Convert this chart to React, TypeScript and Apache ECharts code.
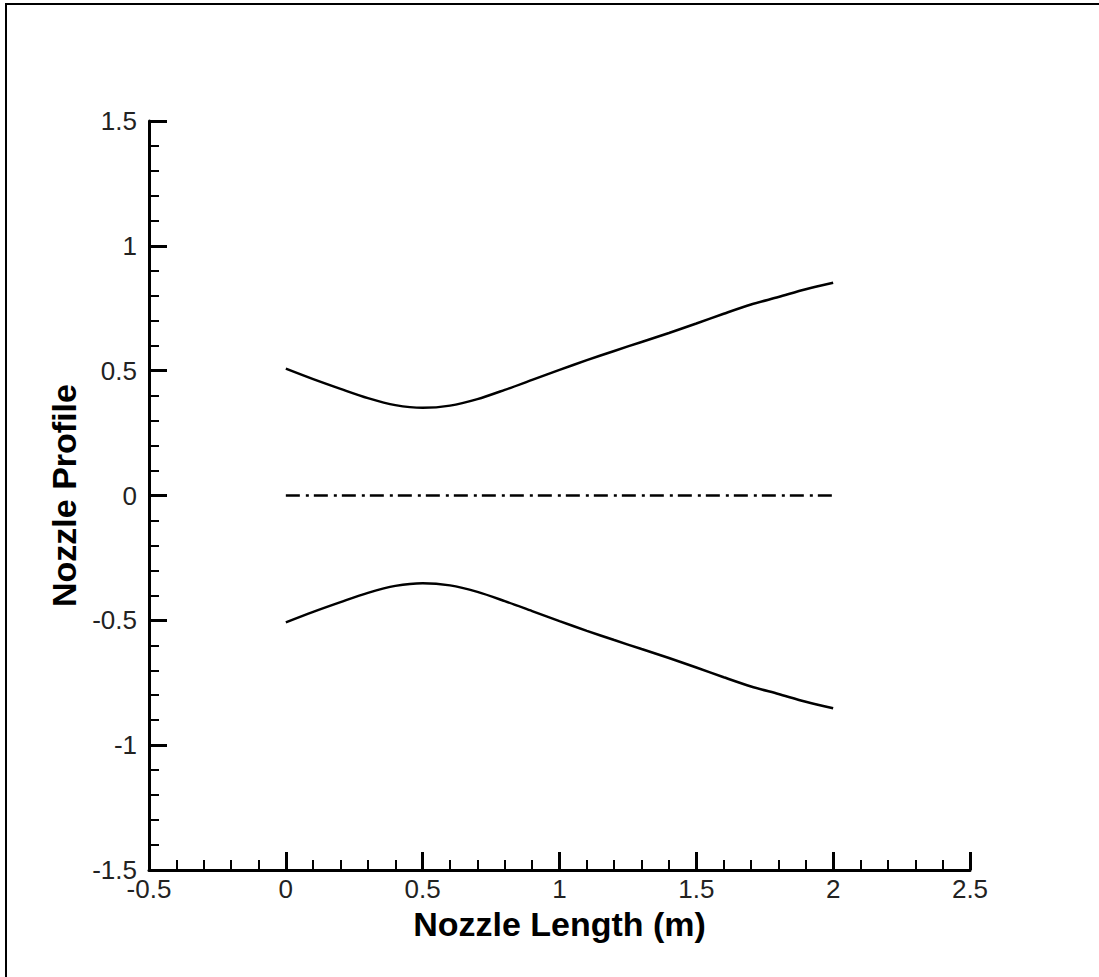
import React, { useEffect, useRef } from "react";
import * as echarts from "echarts";

const xValues = [0, 0.1, 0.2, 0.3, 0.4, 0.5, 0.6, 0.7, 0.8, 0.9, 1.0, 1.1, 1.2, 1.3, 1.4, 1.5, 1.6, 1.7, 1.8, 1.9, 2.0];
const upperWall = [0.508, 0.466, 0.427, 0.39, 0.362, 0.351, 0.36, 0.386, 0.423, 0.463, 0.503, 0.542, 0.579, 0.615, 0.651, 0.689, 0.728, 0.765, 0.795, 0.826, 0.852];
const lowerWall = [-0.508, -0.466, -0.427, -0.39, -0.362, -0.351, -0.36, -0.386, -0.423, -0.463, -0.503, -0.542, -0.579, -0.615, -0.651, -0.689, -0.728, -0.765, -0.795, -0.826, -0.852];
const centerX = [0, 2];
const centerY = [0, 0];

const FONT = "'Liberation Sans', Arial, sans-serif";

export default function App() {
  const ref = useRef<HTMLDivElement>(null);
  useEffect(() => {
    if (!ref.current) return;
    const chart = echarts.init(ref.current, undefined, { renderer: "svg" });
    const pairs = (xs: number[], ys: number[]) => xs.map((x, i) => [x, ys[i]]);
    chart.setOption({
      animation: false,
      backgroundColor: "#fff",
      textStyle: { fontFamily: FONT },
      grid: { left: 149, right: 129, top: 121, bottom: 107, containLabel: false },
      graphic: [
        {
          type: "rect",
          shape: { x: 6, y: 4, width: 1100, height: 1000 },
          style: { fill: "none", stroke: "#000", lineWidth: 2 },
          silent: true,
        },
      ],
      xAxis: {
        type: "value",
        min: -0.5,
        max: 2.5,
        interval: 0.5,
        name: "Nozzle Length (m)",
        nameLocation: "middle",
        nameGap: 32,
        nameTextStyle: { fontSize: 34, fontWeight: "bold", color: "#000", fontFamily: FONT },
        axisLine: { show: true, onZero: false, lineStyle: { color: "#000", width: 3 } },
        axisTick: { show: true, inside: true, length: 18, lineStyle: { color: "#000", width: 3 } },
        minorTick: { show: true, splitNumber: 5, length: 10, lineStyle: { color: "#000", width: 2 } },
        splitLine: { show: false },
        minorSplitLine: { show: false },
        axisLabel: { show: true, showMinLabel: true, showMaxLabel: true, fontSize: 26, color: "#222", margin: 6, fontFamily: FONT },
      },
      yAxis: {
        type: "value",
        min: -1.5,
        max: 1.5,
        interval: 0.5,
        name: "Nozzle Profile",
        nameLocation: "middle",
        nameGap: 63,
        nameTextStyle: { fontSize: 34, fontWeight: "bold", color: "#000", fontFamily: FONT },
        axisLine: { show: true, onZero: false, lineStyle: { color: "#000", width: 3 } },
        axisTick: { show: true, inside: true, length: 18, lineStyle: { color: "#000", width: 3 } },
        minorTick: { show: true, splitNumber: 5, length: 10, lineStyle: { color: "#000", width: 2 } },
        splitLine: { show: false },
        minorSplitLine: { show: false },
        axisLabel: { show: true, showMinLabel: true, showMaxLabel: true, fontSize: 26, color: "#222", margin: 12, fontFamily: FONT },
      },
      series: [
        {
          type: "line",
          data: pairs(xValues, upperWall),
          showSymbol: false,
          smooth: 0.3,
          lineStyle: { color: "#000", width: 2.5 },
          silent: true,
        },
        {
          type: "line",
          data: pairs(xValues, lowerWall),
          showSymbol: false,
          smooth: 0.3,
          lineStyle: { color: "#000", width: 2.5 },
          silent: true,
        },
        {
          type: "line",
          data: pairs(centerX, centerY),
          showSymbol: false,
          lineStyle: { color: "#000", width: 2.5, type: [14, 6, 3, 5] },
          silent: true,
        },
      ],
    });
    return () => chart.dispose();
  }, []);
  return (
    <div
      ref={ref}
      style={{ position: "fixed", left: 0, top: 0, width: 1099, height: 977, background: "#fff" }}
    />
  );
}
